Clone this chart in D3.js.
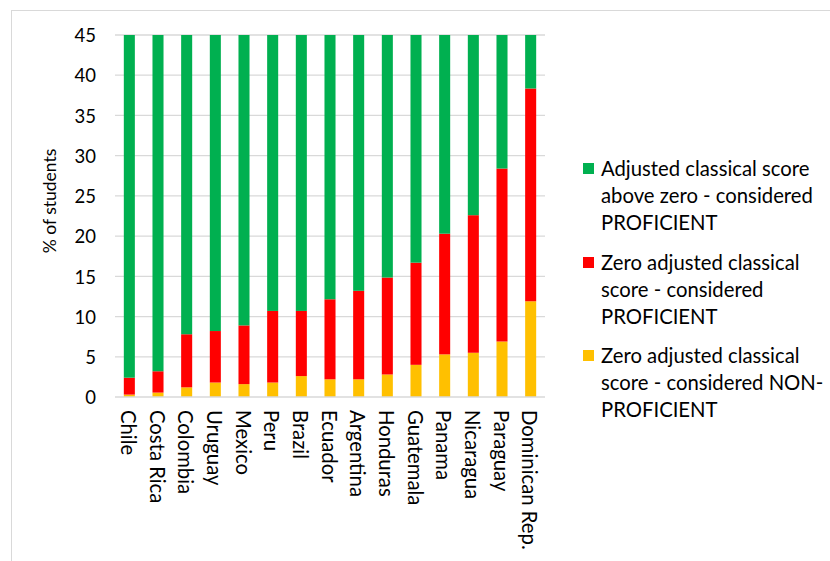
<!DOCTYPE html>
<html>
<head>
<meta charset="utf-8">
<script src="https://cdn.jsdelivr.net/npm/d3@7"></script>
<style>
  html, body { margin: 0; padding: 0; background: #fff; }
  svg { display: block; }
  text { font-family: Lato, "Open Sans", sans-serif; fill: #000; }
</style>
</head>
<body>
<svg id="chart" width="830" height="561"></svg>
<script>
// Countries, ordered by share of students with a zero adjusted score
const countries = ["Chile", "Costa Rica", "Colombia", "Uruguay", "Mexico", "Peru", "Brazil",
  "Ecuador", "Argentina", "Honduras", "Guatemala", "Panama", "Nicaragua", "Paraguay", "Dominican Rep."];

// % of students, zero adjusted classical score - NON-PROFICIENT
const zeroNonProficient = [0.3, 0.55, 1.2, 1.8, 1.6, 1.8, 2.6, 2.2, 2.2, 2.8, 4.0, 5.3, 5.5, 6.9, 11.9];
// % of students, zero adjusted classical score - PROFICIENT
const zeroProficient = [2.1, 2.65, 6.6, 6.4, 7.3, 8.9, 8.1, 9.95, 11.0, 12.05, 12.7, 15.0, 17.1, 21.5, 26.45];
// % of students, adjusted classical score above zero - PROFICIENT
const aboveZeroProficient = [97.6, 96.8, 92.2, 91.8, 91.1, 89.3, 89.3, 87.85, 86.8, 85.15, 83.3, 79.7, 77.4, 71.6, 61.65];

const yTicks = [0, 5, 10, 15, 20, 25, 30, 35, 40, 45];
const yTitle = "% of students";

const seriesKeys = ["nonprof", "zeroprof", "above"];
const seriesColors = { nonprof: "#FFC000", zeroprof: "#FF0000", above: "#00B050" };
const legendItems = [
  { key: "above", lines: ["Adjusted classical score", "above zero - considered", "PROFICIENT"] },
  { key: "zeroprof", lines: ["Zero adjusted classical", "score - considered", "PROFICIENT"] },
  { key: "nonprof", lines: ["Zero adjusted classical", "score - considered NON-", "PROFICIENT"] }
];

const rows = countries.map((c, i) => ({
  country: c,
  nonprof: zeroNonProficient[i],
  zeroprof: zeroProficient[i],
  above: aboveZeroProficient[i]
}));

const svg = d3.select("#chart");
const plot = { left: 115, right: 545, top: 35, bottom: 397 };

// outer chart frame
svg.append("rect")
  .attr("x", 11.5).attr("y", 10.5)
  .attr("width", 900).attr("height", 700)
  .attr("fill", "none").attr("stroke", "#d9d9d9").attr("stroke-width", 1);

const x = d3.scaleBand().domain(countries).range([plot.left, plot.right]).paddingInner(0.615).paddingOuter(0.3075);
const y = d3.scaleLinear().domain([0, 45]).range([plot.bottom, plot.top]);

// horizontal gridlines
svg.append("g")
  .selectAll("line")
  .data(yTicks.filter(t => t > 0))
  .join("line")
  .attr("x1", plot.left).attr("x2", plot.right)
  .attr("y1", d => y(d)).attr("y2", d => y(d))
  .attr("stroke", "#d9d9d9").attr("stroke-width", 1.3);

// stacked bars, clipped to the axis range
svg.append("defs").append("clipPath").attr("id", "plotClip")
  .append("rect")
  .attr("x", plot.left).attr("y", plot.top)
  .attr("width", plot.right - plot.left).attr("height", plot.bottom - plot.top);

const stacked = d3.stack().keys(seriesKeys)(rows);

svg.append("g").attr("clip-path", "url(#plotClip)")
  .selectAll("g")
  .data(stacked)
  .join("g")
  .attr("fill", d => seriesColors[d.key])
  .selectAll("rect")
  .data(d => d)
  .join("rect")
  .attr("x", d => x(d.data.country))
  .attr("width", x.bandwidth())
  .attr("y", d => y(d[1]))
  .attr("height", d => y(d[0]) - y(d[1]));

// category axis line
svg.append("line")
  .attr("x1", plot.left).attr("x2", plot.right)
  .attr("y1", plot.bottom).attr("y2", plot.bottom)
  .attr("stroke", "#d9d9d9").attr("stroke-width", 1.5);

// y axis labels
const yAxis = d3.axisLeft(y).tickValues(yTicks).tickSize(0).tickPadding(0).tickFormat(d3.format("d"));
const yg = svg.append("g").attr("transform", `translate(${plot.left - 19},0)`).call(yAxis);
yg.select(".domain").remove();
yg.selectAll("text")
  .attr("font-family", "Lato, sans-serif")
  .attr("font-size", 18.5)
  .attr("fill", "#000")
  .attr("dy", "0.36em");

// category labels, rotated to read top-to-bottom
const xAxis = d3.axisBottom(x).tickSize(0).tickPadding(0);
const xg = svg.append("g").attr("transform", `translate(0,${plot.bottom})`).call(xAxis);
xg.select(".domain").remove();
xg.selectAll("text")
  .attr("font-family", "Lato, sans-serif")
  .attr("font-size", 20.3)
  .attr("fill", "#000")
  .attr("text-anchor", "start")
  .attr("transform", "translate(-1,13) rotate(90)")
  .attr("x", 0).attr("y", 0)
  .attr("dy", "0.36em");

// y axis title
svg.append("text")
  .attr("transform", "translate(50,201) rotate(-90)")
  .attr("text-anchor", "middle")
  .attr("dy", "0.36em")
  .attr("font-size", 17.5)
  .text(yTitle);

// legend
const legendTop = [176, 270, 363];
const legend = svg.append("g");
legendItems.forEach((item, i) => {
  const g = legend.append("g").attr("transform", `translate(583,${legendTop[i]})`);
  g.append("rect")
    .attr("x", 0).attr("y", -13)
    .attr("width", 11).attr("height", 11)
    .attr("fill", seriesColors[item.key]);
  g.append("text")
    .attr("x", 18).attr("y", 0)
    .attr("font-size", 20.3)
    .selectAll("tspan")
    .data(item.lines)
    .join("tspan")
    .attr("x", 18)
    .attr("dy", (d, j) => j === 0 ? 0 : 27)
    .text(d => d);
});
</script>
</body>
</html>
